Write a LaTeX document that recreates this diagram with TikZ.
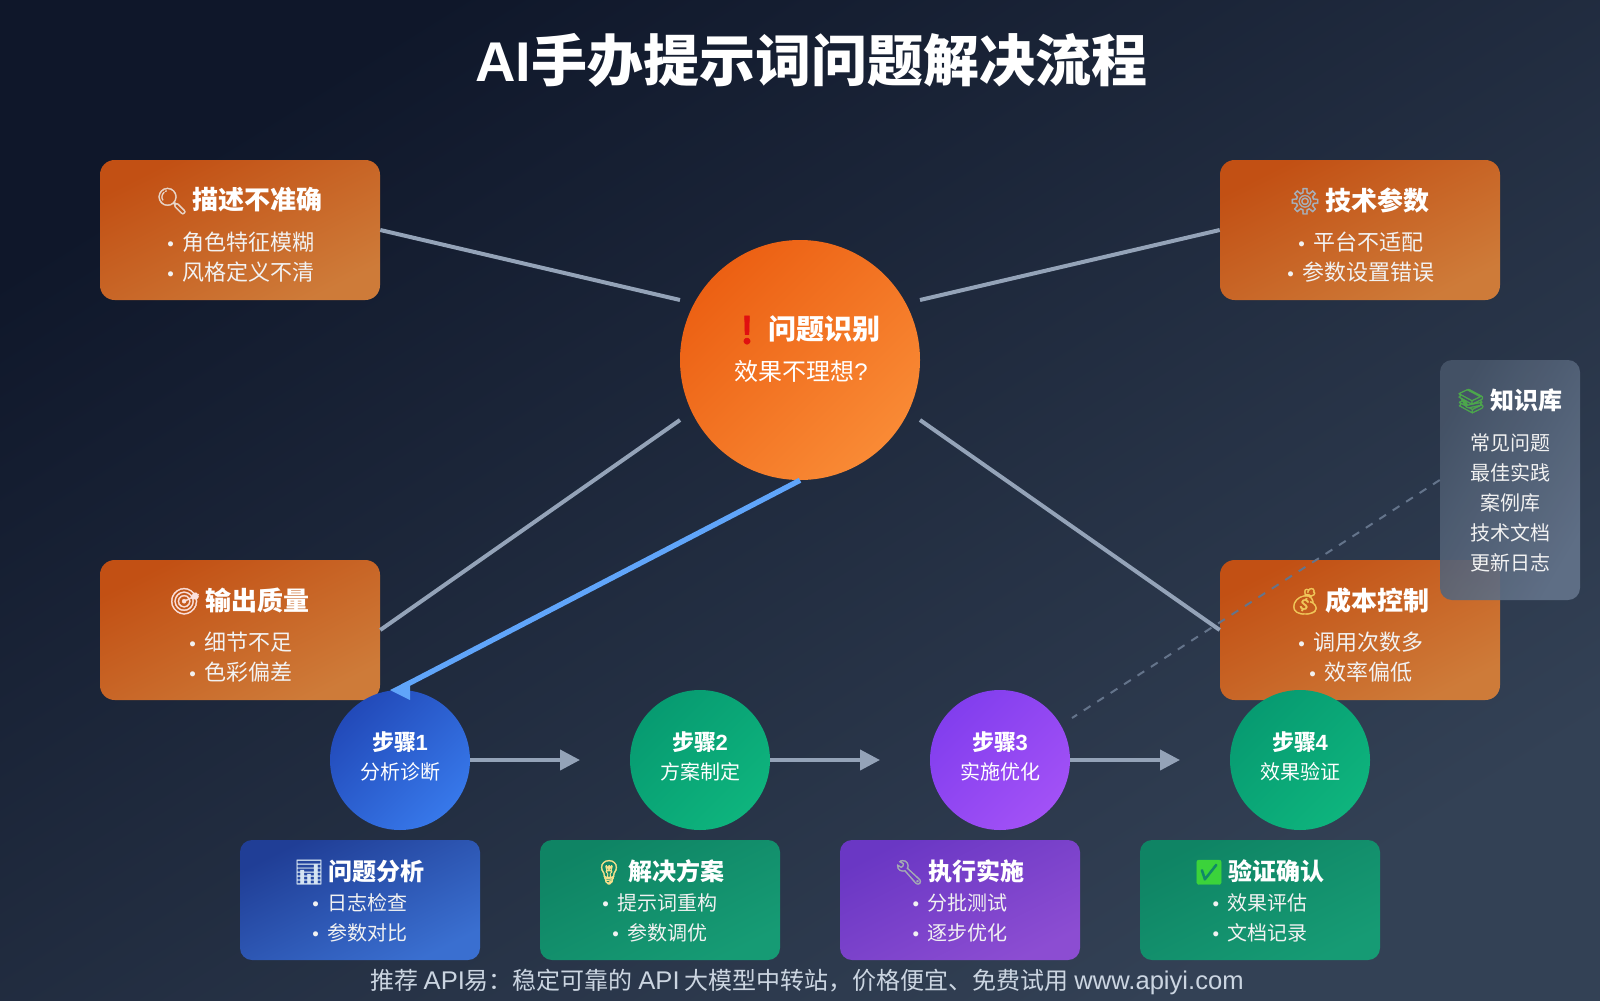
\documentclass[tikz,border=0pt]{standalone}
\usepackage{fontspec}
\usetikzlibrary{arrows.meta}
\setmainfont{Noto Sans CJK SC}
\newfontfamily\latinface{Liberation Sans}
\newfontfamily\emojiface[FakeBold=1.5]{Noto Emoji}
\newcommand{\latn}[1]{{\latinface #1}}
\newcommand{\emo}[2]{{\color{#1}\emojiface #2}\kern3pt}
\newcommand{\itm}{{\latinface\fontsize{14}{14}\selectfont\textbullet}\ \kern3pt}
\definecolor{linegray}{HTML}{94A3B8}
\definecolor{dashgray}{HTML}{64748B}
\definecolor{flowblue}{HTML}{60A5FA}
\definecolor{bgA}{HTML}{0F172A}
\definecolor{bgB}{HTML}{334155}
\definecolor{issueA}{HTML}{C25014}
\definecolor{issueB}{HTML}{CE7B39}
\definecolor{coreA}{HTML}{EC6013}
\definecolor{coreB}{HTML}{F98A35}
\definecolor{blueA}{HTML}{224AB9}
\definecolor{blueB}{HTML}{3778EA}
\definecolor{greenA}{HTML}{079B71}
\definecolor{greenB}{HTML}{0EB47D}
\definecolor{violetA}{HTML}{823EEE}
\definecolor{violetB}{HTML}{A251F6}
\definecolor{blueC}{HTML}{203E96}
\definecolor{blueD}{HTML}{3A6FD0}
\definecolor{greenC}{HTML}{0F8464}
\definecolor{greenD}{HTML}{169B74}
\definecolor{violetC}{HTML}{6A37C4}
\definecolor{violetD}{HTML}{8C4DD2}
\definecolor{kbA}{HTML}{475569}
\definecolor{kbB}{HTML}{64748B}
\definecolor{footgray}{HTML}{CBD5E1}
\definecolor{emoLens}{HTML}{E8D5C8}
\definecolor{emoGear}{HTML}{A7B0BA}
\definecolor{emoDart}{HTML}{FBE0DC}
\definecolor{emoBag}{HTML}{F0C75A}
\definecolor{emoBook}{HTML}{4CA64C}
\definecolor{emoChart}{HTML}{D5E4F2}
\definecolor{emoBulb}{HTML}{F7E08C}
\definecolor{emoTool}{HTML}{A5ABB3}
\definecolor{emoTick}{HTML}{3BD33B}
\definecolor{emoMark}{HTML}{E01010}
\tikzset{
  gradfill/.style n args={3}{top color=#1,bottom color=#2,shading angle=#3},
  issuebox/.style={rectangle,rounded corners=11pt,inner sep=0pt,minimum width=210pt,minimum height=105pt,gradfill={issueA}{issueB}{26.6}},
  infobox/.style={rectangle,rounded corners=9pt,inner sep=0pt,minimum width=180pt,minimum height=90pt},
  stepnode/.style={circle,inner sep=0pt,minimum size=105pt},
  headtext/.style={text=white,font=\bfseries\fontsize{19.5}{20}\selectfont,inner sep=0pt,xshift=-.75pt},
  itemtext/.style={text=white!95!black,font=\fontsize{16.5}{18}\selectfont,inner sep=0pt,xshift=.75pt},
  smallhead/.style={text=white,font=\bfseries\fontsize{18}{20}\selectfont,inner sep=0pt,xshift=-.75pt},
  smallitem/.style={text=white!95!black,font=\fontsize{15}{16}\selectfont,inner sep=0pt},
  linkline/.style={draw=linegray,line width=3pt},
  steparrow/.style={draw=linegray,line width=3pt,-{Triangle[length=15pt,width=15pt]}},
}
\begin{document}
\begin{tikzpicture}[x=0.75pt,y=0.75pt,yscale=-1,xscale=1]
% background
\useasboundingbox (0,0) rectangle (1600,1000);
\node[rectangle,inner sep=0pt,minimum width=1200pt,minimum height=750pt,gradfill={bgA}{bgB}{32}] (canvas) at (800,500) {};
\node[text=white,inner sep=0pt,font=\bfseries\fontsize{42}{46}\selectfont] (title) at (811,60) {\latn{AI}手办提示词问题解决流程};
% free ends
\coordinate (issueNW) at (680,300);
\coordinate (issueNE) at (920,300);
\coordinate (issueSW) at (680,420);
\coordinate (issueSE) at (920,420);
\coordinate (flowEnd) at (402,687);
\coordinate (flowTip) at (390,690);
\coordinate (arrowA) at (580,760);
\coordinate (arrowB) at (880,760);
\coordinate (arrowC) at (1180,760);
\coordinate (kbEnd) at (1072,718);
% problem boxes
\node[issuebox] (descBox) at (240,230) {};
\node[issuebox] (techBox) at (1360,230) {};
\node[issuebox] (qualBox) at (240,630) {};
\node[issuebox] (costBox) at (1360,630) {};
\draw[linkline] (descBox.east) -- (issueNW);
\draw[linkline] (techBox.west) -- (issueNE);
\draw[linkline] (qualBox.east) -- (issueSW);
\draw[linkline] (costBox.west) -- (issueSE);
\node[circle,inner sep=0pt,minimum size=180pt,gradfill={coreA}{coreB}{45}] (issue) at (800,360) {};
\node[text=white,inner sep=0pt,font=\bfseries\fontsize{21}{22}\selectfont] (issueHead) at (805,330) {\emo{emoMark}{❗} 问题识别};
\node[text=white,inner sep=0pt,font=\fontsize{18}{20}\selectfont] (issueSub) at (801,371) {效果不理想\latn{?}};
\node[headtext] (descHead) at (240,201) {\emo{emoLens}{🔍} 描述不准确};
\node[itemtext] (descA) at (240,242) {\itm 角色特征模糊};
\node[itemtext] (descB) at (240,272) {\itm 风格定义不清};
\node[headtext] (techHead) at (1360,201) {\emo{emoGear}{⚙} 技术参数};
\node[itemtext] (techA) at (1360,242) {\itm 平台不适配};
\node[itemtext] (techB) at (1360,272) {\itm 参数设置错误};
\node[headtext] (qualHead) at (240,601) {\emo{emoDart}{🎯} 输出质量};
\node[itemtext] (qualA) at (240,642) {\itm 细节不足};
\node[itemtext] (qualB) at (240,672) {\itm 色彩偏差};
\node[headtext] (costHead) at (1360,601) {\emo{emoBag}{💰} 成本控制};
\node[itemtext] (costA) at (1360,642) {\itm 调用次数多};
\node[itemtext] (costB) at (1360,672) {\itm 效率偏低};
% steps
\node[stepnode,gradfill={blueA}{blueB}{45}] (stepA) at (400,760) {};
\node[stepnode,gradfill={greenA}{greenB}{45}] (stepB) at (700,760) {};
\node[stepnode,gradfill={violetA}{violetB}{45}] (stepC) at (1000,760) {};
\node[stepnode,gradfill={greenA}{greenB}{45}] (stepD) at (1300,760) {};
\draw[steparrow] (stepA.east) -- (arrowA);
\draw[steparrow] (stepB.east) -- (arrowB);
\draw[steparrow] (stepC.east) -- (arrowC);
\draw[draw=flowblue,line width=4pt] (issue.south) -- (flowEnd);
\fill[flowblue] (flowTip) -- ++(20,-10) -- ++(0,20) -- cycle;
\foreach \nm/\cx/\hd/\sb in {stepA/400/1/分析诊断,stepB/700/2/方案制定,stepC/1000/3/实施优化,stepD/1300/4/效果验证}{
  \node[text=white,inner sep=0pt,font=\bfseries\fontsize{16.5}{18}\selectfont] (\nm Head) at (\cx,742) {步骤\kern-.5pt\latn{\hd}};
  \node[smallitem,text=white] (\nm Sub) at (\cx,772) {\sb};
}
% detail boxes
\node[infobox,gradfill={blueC}{blueD}{26.6}] (anaBox) at (360,900) {};
\node[infobox,gradfill={greenC}{greenD}{26.6}] (planBox) at (660,900) {};
\node[infobox,gradfill={violetC}{violetD}{26.6}] (execBox) at (960,900) {};
\node[infobox,gradfill={greenC}{greenD}{26.6}] (checkBox) at (1260,900) {};
\node[smallhead] (anaHead) at (360,872) {\emo{emoChart}{📊} 问题分析};
\node[smallitem] (anaA) at (360,903) {\itm 日志检查};
\node[smallitem] (anaB) at (360,933) {\itm 参数对比};
\node[smallhead] (planHead) at (660,872) {\emo{emoBulb}{💡} 解决方案};
\node[smallitem] (planA) at (660,903) {\itm 提示词重构};
\node[smallitem] (planB) at (660,933) {\itm 参数调优};
\node[smallhead] (execHead) at (960,872) {\emo{emoTool}{🔧} 执行实施};
\node[smallitem] (execA) at (960,903) {\itm 分批测试};
\node[smallitem] (execB) at (960,933) {\itm 逐步优化};
\node[smallhead] (checkHead) at (1260,872) {\emo{emoTick}{✅} 验证确认};
\node[smallitem] (checkA) at (1260,903) {\itm 效果评估};
\node[smallitem] (checkB) at (1260,933) {\itm 文档记录};
% knowledge base
\node[rectangle,rounded corners=9pt,inner sep=0pt,minimum width=105pt,minimum height=180pt,gradfill={kbA}{kbB}{59.7},fill opacity=.9] (kbBox) at (1510,480) {};
\draw[draw=dashgray,line width=1.5pt,dash pattern=on 6pt off 6pt] (kbBox.west) -- (kbEnd);
\node[smallhead] (kbHead) at (1510,401) {\emo{emoBook}{📚} 知识库};
\node[smallitem] (kbItemA) at (1510,443) {常见问题};
\node[smallitem] (kbItemB) at (1510,473) {最佳实践};
\node[smallitem] (kbItemC) at (1510,503) {案例库};
\node[smallitem] (kbItemD) at (1510,533) {技术文档};
\node[smallitem] (kbItemE) at (1510,563) {更新日志};
\node[text=footgray,inner sep=0pt,font=\fontsize{18}{20}\selectfont] (footer) at (807,982) {推荐 {\fontsize{19.2}{20}\selectfont\latn{API}}易：稳定可靠的 {\fontsize{19.2}{20}\selectfont\latn{API}} 大模型中转站，价格便宜、免费试用 {\fontsize{19.2}{20}\selectfont\latn{www.apiyi.com}}};
\end{tikzpicture}
\end{document}
